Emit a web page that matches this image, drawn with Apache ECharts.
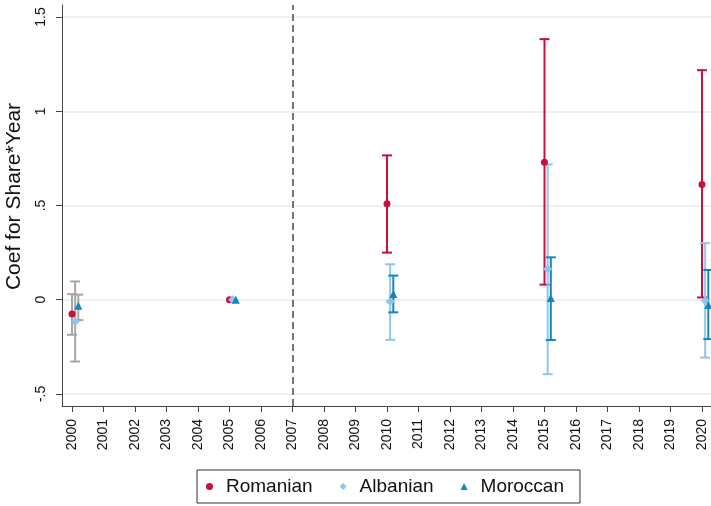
<!DOCTYPE html>
<html>
<head>
<meta charset="utf-8">
<script src="https://cdn.jsdelivr.net/npm/echarts@6/dist/echarts.min.js"></script>
<style>
html,body{margin:0;padding:0;background:#fff;}
#chart{width:711px;height:506px;}
</style>
</head>
<body>
<div id="chart"></div>
<script>
// ---- data ----
const years = [2000, 2005, 2010, 2015, 2020];
const xTickYears = [2000,2001,2002,2003,2004,2005,2006,2007,2008,2009,2010,2011,2012,2013,2014,2015,2016,2017,2018,2019,2020];
const yTickValues = [-0.5, 0, 0.5, 1, 1.5];
const yTickLabels = ['-.5', '0', '.5', '1', '1.5'];
const seriesNames = ['Romanian', 'Albanian', 'Moroccan'];

const romanianCoef = [-0.076, 0, 0.509, 0.730, 0.612];
const romanianLo   = [-0.186, null, 0.250, 0.080, 0.012];
const romanianHi   = [0.030, null, 0.766, 1.383, 1.218];

const albanianCoef = [-0.115, 0, -0.010, 0.163, -0.005];
const albanianLo   = [-0.328, null, -0.213, -0.395, -0.307];
const albanianHi   = [0.097, null, 0.188, 0.718, 0.300];

const moroccanCoef = [-0.032, 0, 0.030, 0.009, -0.028];
const moroccanLo   = [-0.108, null, -0.067, -0.214, -0.209];
const moroccanHi   = [0.027, null, 0.128, 0.225, 0.158];

const cutoffYear = 2007;

// ---- presentation ----
const colors = ['#c8103e', '#92c5ea', '#1486b8'];
const offsets = [0, 0.1, 0.2];
const symbols = ['circle', 'diamond', 'triangle'];
const symbolSizes = [7, 9, 8];
const grayCI = '#a6a6a6';

const coefs = [romanianCoef, albanianCoef, moroccanCoef];
const los = [romanianLo, albanianLo, moroccanLo];
const his = [romanianHi, albanianHi, moroccanHi];

function ciSeries(k) {
  const data = [];
  years.forEach((y, i) => {
    if (los[k][i] != null) data.push([y + offsets[k], los[k][i], his[k][i], y]);
  });
  return {
    name: seriesNames[k] + ' CI',
    type: 'custom',
    z: 2,
    encode: {x: 0, y: [1, 2]},
    data: data,
    renderItem: function (params, api) {
      const x = api.value(0);
      const p1 = api.coord([x, api.value(1)]);
      const p2 = api.coord([x, api.value(2)]);
      const c = api.value(3) < cutoffYear ? grayCI : colors[k];
      const hw = 5;
      const st = {stroke: c, lineWidth: 2};
      return {
        type: 'group',
        children: [
          {type: 'line', shape: {x1: p1[0], y1: p1[1], x2: p2[0], y2: p2[1]}, style: st},
          {type: 'line', shape: {x1: p1[0] - hw, y1: p1[1], x2: p1[0] + hw, y2: p1[1]}, style: st},
          {type: 'line', shape: {x1: p2[0] - hw, y1: p2[1], x2: p2[0] + hw, y2: p2[1]}, style: st}
        ]
      };
    }
  };
}

function pointSeries(k) {
  const s = {
    name: seriesNames[k],
    type: 'scatter',
    z: 5,
    symbol: symbols[k],
    symbolSize: symbolSizes[k],
    itemStyle: {color: colors[k], opacity: 1},
    data: years.map((y, i) => [y + offsets[k], coefs[k][i]])
  };
  if (k === 0) {
    s.markLine = {
      silent: true,
      symbol: 'none',
      label: {show: false},
      lineStyle: {color: '#555', width: 1.6, type: [7, 4]},
      data: [{xAxis: cutoffYear}]
    };
  }
  return s;
}

const xMin = 2000 - 10 / 31.5;
const xMax = 2020 + 9 / 31.5;
const chart = echarts.init(document.getElementById('chart'), null, {renderer: 'canvas'});
chart.setOption({
  animation: false,
  backgroundColor: '#fff',
  textStyle: {fontFamily: 'Liberation Sans, Arial, sans-serif'},
  grid: {left: 62, right: 0, top: 5, bottom: 100, containLabel: false, outerBoundsMode: 'none'},
  xAxis: {
    type: 'value',
    min: xMin,
    max: xMax,
    axisLine: {show: true, onZero: false, lineStyle: {color: '#444', width: 1}},
    axisTick: {show: true, length: 6, customValues: xTickYears, lineStyle: {color: '#444'}},
    axisLabel: {
      customValues: xTickYears,
      rotate: 90, margin: 13, fontSize: 14, color: '#111',
      formatter: v => String(Math.round(v))
    },
    splitLine: {show: false}
  },
  yAxis: {
    type: 'value',
    min: -0.564,
    max: 1.564,
    name: 'Coef for Share*Year',
    nameLocation: 'middle',
    nameGap: 37,
    nameTextStyle: {fontSize: 21, color: '#111', padding: [0, 0, 0, 18]},
    axisLine: {show: true, lineStyle: {color: '#444', width: 1}},
    axisTick: {show: true, length: 6, customValues: yTickValues, lineStyle: {color: '#444'}},
    axisLabel: {
      customValues: yTickValues,
      rotate: 90, margin: 14, fontSize: 14, color: '#111',
      formatter: v => {
        const idx = yTickValues.findIndex(t => Math.abs(t - v) < 1e-9);
        return idx >= 0 ? yTickLabels[idx] : '';
      }
    },
    splitLine: {show: true, lineStyle: {color: '#e6eef1', width: 1.5}}
  },
  legend: {
    data: seriesNames.map((n, k) => ({name: n, icon: symbols[k]})),
    left: 197,
    bottom: 3,
    orient: 'horizontal',
    itemWidth: 7,
    itemHeight: 7,
    itemGap: 27,
    padding: [7, 16, 7, 9],
    borderColor: '#333',
    borderWidth: 1,
    textStyle: {fontSize: 19, color: '#111', padding: [0, 0, 0, 8]}
  },
  series: [ciSeries(0), ciSeries(1), ciSeries(2), pointSeries(0), pointSeries(1), pointSeries(2)]
});
</script>
</body>
</html>
